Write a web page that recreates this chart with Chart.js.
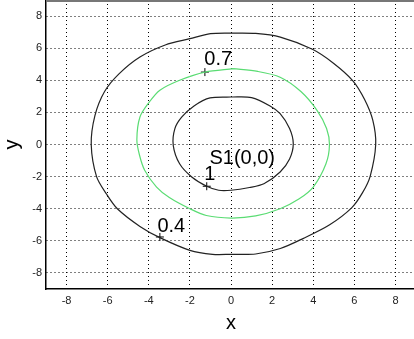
<!DOCTYPE html>
<html><head><meta charset="utf-8">
<script src="https://cdn.jsdelivr.net/npm/chart.js@4/dist/chart.umd.min.js"></script>
<style>html,body{margin:0;padding:0;background:#fff;overflow:hidden;width:414px;height:339px}</style>
</head><body>
<canvas id="c" width="416" height="339"></canvas>
<script>
// Contour level 0.4 (outer)
const c04X = [0, 1.2, 2.4, 3.96, 5.0, 5.92, 6.5, 6.9, 7.04, 6.77, 6.4, 5.88, 4.8, 3.5, 2.4, 1.2, 0, -0.9, -2.0, -3.46, -4.43, -5.53, -6.05, -6.54, -6.8, -6.62, -6.15, -5.45, -4.43, -3.2, -2.0, -1.0, 0];
const c04Y = [6.94, 6.92, 6.69, 5.93, 5.05, 3.98, 2.8, 1.5, 0, -1.98, -3.0, -3.93, -5.0, -5.86, -6.48, -6.82, -6.84, -6.84, -6.59, -5.8, -5.1, -4.0, -3.1, -2.0, 0, 1.8, 3.3, 4.4, 5.45, 6.2, 6.59, 6.9, 6.94];
// Contour level 0.7 (middle, green)
const c07X = [0.1, 1.3, 2.39, 3.4, 4.2, 4.65, 4.79, 4.62, 4.0, 3.3, 2.39, 1.2, 0, -1.2, -2.0, -3.0, -3.62, -4.2, -4.45, -4.58, -4.43, -4.0, -3.46, -2.5, -1.27, 0.1];
const c07Y = [4.72, 4.55, 4.19, 3.3, 2.1, 1.0, 0.0, -1.2, -2.65, -3.4, -4.0, -4.45, -4.58, -4.42, -4.0, -3.3, -2.65, -1.6, -0.67, 0.3, 1.71, 2.6, 3.38, 4.0, 4.51, 4.72];
// Contour level 1 (inner)
const c1X = [0, 1.0, 1.9, 2.39, 2.85, 3.03, 2.85, 2.39, 1.6, 0.9, 0, -0.6, -1.18, -1.91, -2.5, -2.81, -2.73, -2.4, -1.8, -1.02, 0];
const c1Y = [2.96, 2.92, 2.4, 1.92, 1.0, 0.05, -0.9, -1.71, -2.45, -2.68, -2.85, -2.85, -2.6, -2.02, -1.2, -0.05, 0.99, 1.7, 2.4, 2.9, 2.96];
// Label markers and texts
const markX = [-1.27, -1.18, -3.46];
const markY = [4.51, -2.6, -5.76];
const labelText = ['0.7', '1', '0.4', 'S1(0,0)'];
const labelX = [-1.3, -1.3, -3.58, -1.05];
const labelY = [4.93, -2.23, -5.45, -1.19];
const tickVals = [-8, -6, -4, -2, 0, 2, 4, 6, 8];

const pts = (xs, ys) => xs.map((x, i) => ({x, y: ys[i]}));

const labelPlugin = {
  id: 'labels',
  afterDatasetsDraw(chart) {
    const ctx = chart.ctx, xs = chart.scales.x, ys = chart.scales.y;
    ctx.save();
    ctx.fillStyle = '#000';
    ctx.font = '20px "Liberation Sans", Arial, sans-serif';
    ctx.textBaseline = 'alphabetic';
    ctx.textAlign = 'left';
    labelText.forEach((t, i) => {
      ctx.fillText(t, xs.getPixelForValue(labelX[i]), ys.getPixelForValue(labelY[i]));
    });
    ctx.restore();
  },
  afterDraw(chart) {
    const ctx = chart.ctx, a = chart.chartArea;
    ctx.save();
    ctx.strokeStyle = '#777';
    ctx.lineWidth = 2;
    ctx.beginPath();
    ctx.moveTo(a.left, a.top + 1);
    ctx.lineTo(a.right, a.top + 1);
    ctx.stroke();
    ctx.restore();
  }
};

const gridCommon = {color: '#000', lineWidth: 1, drawTicks: false};
const tickFont = {family: '"Liberation Sans", Arial, sans-serif', size: 11};

new Chart(document.getElementById('c'), {
  type: 'scatter',
  data: {
    datasets: [
      {data: pts(c04X, c04Y), showLine: true, borderColor: '#222', borderWidth: 1.2, pointRadius: 0, tension: 0.3, fill: false},
      {data: pts(c07X, c07Y), showLine: true, borderColor: 'rgb(90,220,115)', borderWidth: 1.2, pointRadius: 0, tension: 0.3, fill: false},
      {data: pts(c1X, c1Y), showLine: true, borderColor: '#222', borderWidth: 1.2, pointRadius: 0, tension: 0.3, fill: false},
      {data: pts(markX, markY), showLine: false, pointStyle: 'cross', pointRadius: 4, borderColor: '#000', borderWidth: 1}
    ]
  },
  options: {
    responsive: false,
    animation: false,
    events: [],
    layout: {padding: 0, autoPadding: false},
    plugins: {legend: {display: false}, tooltip: {enabled: false}},
    scales: {
      x: {
        type: 'linear', min: -9, max: 9,
        afterBuildTicks: s => { s.ticks = tickVals.map(v => ({value: v})); },
        afterFit: s => { s.height = 50; s.paddingLeft = 0; s.paddingRight = 0; },
        grid: gridCommon,
        border: {display: true, color: '#000', width: 1.5, dash: [1, 3]},
        ticks: {font: tickFont, color: '#222', padding: 5, maxRotation: 0, autoSkip: false},
        title: {display: true, text: 'x', color: '#000', font: {family: '"Liberation Sans", Arial, sans-serif', size: 20}, padding: {top: 0, bottom: 4}}
      },
      y: {
        type: 'linear', min: -9, max: 9,
        afterBuildTicks: s => { s.ticks = tickVals.map(v => ({value: v})); },
        afterFit: s => { s.width = 46; s.paddingTop = 0; s.paddingBottom = 0; },
        grid: gridCommon,
        border: {display: true, color: '#000', width: 1.5, dash: [1, 3]},
        ticks: {font: tickFont, color: '#222', padding: 4, autoSkip: false},
        title: {display: true, text: 'y', color: '#000', font: {family: '"Liberation Sans", Arial, sans-serif', size: 20}, padding: {top: 0, bottom: 0}}
      }
    }
  },
  plugins: [labelPlugin]
});
</script>
</body></html>
